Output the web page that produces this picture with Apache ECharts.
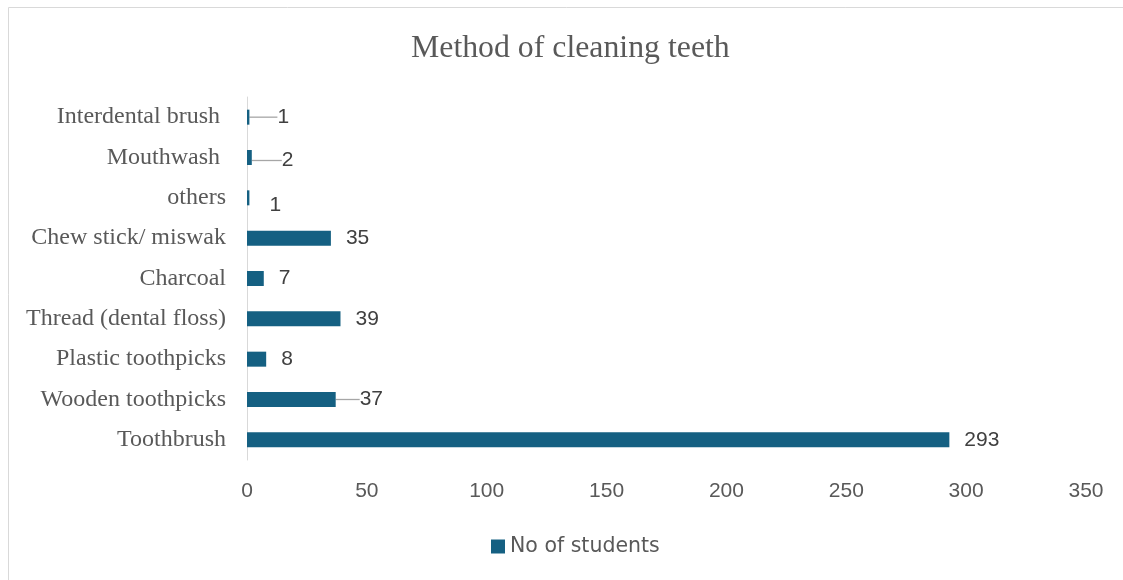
<!DOCTYPE html>
<html>
<head>
<meta charset="utf-8">
<script src="https://cdn.jsdelivr.net/npm/echarts@6/dist/echarts.min.js"></script>
<style>html,body{margin:0;padding:0;background:#fff}#c{width:1123px;height:580px}</style>
</head>
<body>
<div id="c"></div>
<script>
const categories = ["Toothbrush", "Wooden toothpicks", "Plastic toothpicks", "Thread (dental floss)", "Charcoal", "Chew stick/ miswak", "others", "Mouthwash ", "Interdental brush "];
const values = [293, 37, 8, 39, 7, 35, 1, 2, 1];
const xTicks = [0, 50, 100, 150, 200, 250, 300, 350];
const seriesName = "No of students";
// label shifts and leader lines (style only)
const labelShift = {1: [9, 0], 6: [5, 7], 7: [15, 3], 8: [13, 0]};
const withLeader = [1, 7, 8];

const seriesData = values.map((v, i) => withLeader.includes(i) ? {value: v, labelLine: {show: true}} : {value: v, labelLine: {show: false}});

const chart = echarts.init(document.getElementById('c'));
chart.setOption({
  animation: false,
  graphic: [{type: 'rect', shape: {x: 8.5, y: 7.5, width: 1300, height: 800}, style: {fill: 'none', stroke: '#d9d9d9', lineWidth: 1}, silent: true}],
  title: {text: 'Method of cleaning teeth', left: 406, top: 28, textStyle: {fontFamily: 'Liberation Serif', fontSize: 31.8, fontWeight: 'normal', color: '#595959'}},
  grid: {left: 247, right: 37, top: 97, bottom: 120, containLabel: false},
  legend: {data: [seriesName], bottom: 18, left: 486, itemWidth: 14, itemHeight: 14, icon: 'rect', textStyle: {fontFamily: 'DejaVu Sans', fontSize: 20.5, color: '#595959'}},
  xAxis: {type: 'value', min: xTicks[0], max: xTicks[xTicks.length - 1], interval: 50, axisLine: {show: false}, axisTick: {show: false}, splitLine: {show: false}, axisLabel: {margin: 21, fontFamily: 'Liberation Sans', fontSize: 21, color: '#595959'}},
  yAxis: {type: 'category', data: categories, axisLine: {show: true, lineStyle: {color: '#d9d9d9', width: 1}}, axisTick: {show: false}, axisLabel: {margin: 21, fontFamily: 'Liberation Serif', fontSize: 24, color: '#595959'}},
  series: [{
    name: seriesName, type: 'bar', data: seriesData, barWidth: 15,
    itemStyle: {color: '#156082'},
    label: {show: true, position: 'right', distance: 15, fontFamily: 'Liberation Sans', fontSize: 21, color: '#404040'},
    labelLine: {show: false, lineStyle: {color: '#a6a6a6', width: 1.3}},
    labelLayout: function (p) {
      const s = labelShift[p.dataIndex];
      return s ? {dx: s[0], dy: s[1]} : {};
    }
  }]
});
</script>
</body>
</html>
